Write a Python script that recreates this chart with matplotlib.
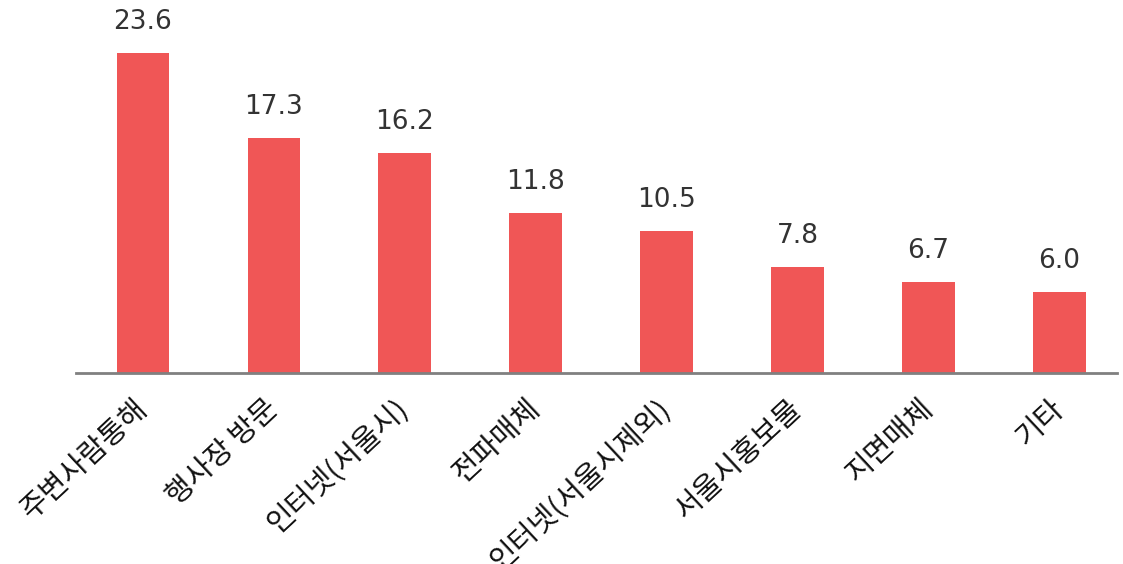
import matplotlib
matplotlib.use('Agg')
import matplotlib.pyplot as plt
import matplotlib.transforms as mtransforms
import numpy as np

plt.rcParams['font.family'] = ['Noto Sans CJK KR', 'DejaVu Sans']

# 데이터
categorias = ['주변사람통해', '행사장 방문', '인터넷(서울시)', '전파매체',
              '인터넷(서울시제외)', '서울시홍보물', '지면매체', '기타']
valores = [23.6, 17.3, 16.2, 11.8, 10.5, 7.8, 6.7, 6.0]

cor_barra = '#F05656'

fig = plt.figure(figsize=(11.23, 5.64), dpi=100)
ax = fig.add_axes([76 / 1123, 191 / 564, (1117 - 76) / 1123, 373 / 564])

posicoes = np.arange(len(categorias))
barras = ax.bar(posicoes, valores, width=0.40, color=cor_barra)

# Rótulos de valor acima das barras
for x, v in zip(posicoes, valores):
    ax.annotate(f'{v:.1f}', (x, v), xytext=(0, 13), textcoords='offset points',
                ha='center', va='bottom', fontsize=19, color='#333333',
                family=['DejaVu Sans'])

ax.set_xlim(-0.51, 7.44)
ax.set_ylim(0, 27.5)

ax.set_xticks(posicoes)
ax.set_xticklabels(categorias, rotation=43, ha='right', rotation_mode='anchor',
                   fontsize=21, color='#111111')
ax.tick_params(axis='x', length=0, pad=15)
ax.set_yticks([])

# desloca os rótulos um pouco para a esquerda
desloc = mtransforms.ScaledTranslation(-7 / 72, 0, fig.dpi_scale_trans)
for rotulo in ax.get_xticklabels():
    rotulo.set_transform(rotulo.get_transform() + desloc)

for lado in ['top', 'right', 'left']:
    ax.spines[lado].set_visible(False)
ax.spines['bottom'].set_color('#808080')
ax.spines['bottom'].set_linewidth(2)

fig.savefig('out.png', dpi=100)
